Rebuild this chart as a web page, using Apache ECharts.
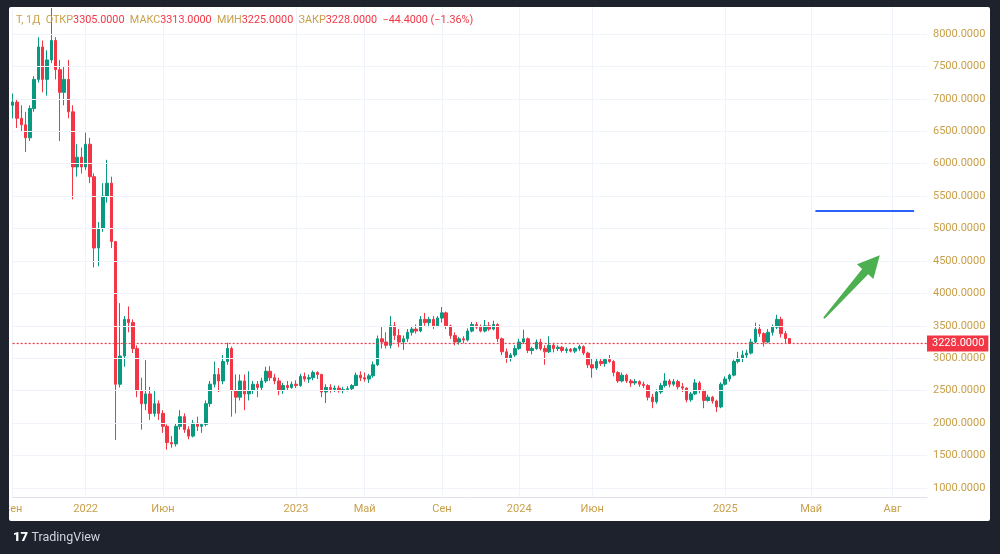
<!DOCTYPE html>
<html>
<head>
<meta charset="utf-8">
<script src="https://cdn.jsdelivr.net/npm/echarts@6/dist/echarts.min.js"></script>
<style>
  html, body { margin: 0; padding: 0; background: #1e222d; }
  #panel { position: absolute; left: 9px; top: 7px; width: 981px; height: 514px; background: #fff; border-radius: 2px; }
  #chart { position: absolute; left: 0; top: 0; width: 1000px; height: 554px; }
  #edge { position: absolute; left: 0; top: 0; width: 9px; height: 554px; background: #1e222d; }
</style>
</head>
<body>
<div id="panel"></div>
<div id="chart"></div>
<div id="edge"></div>
<script>
// weekly bars: [open, high, low, close]
const ohlc2021 = [
  [6900,7080,6700,6950],[6950,7000,6550,6700],[6700,6900,6500,6600],[6600,6800,6180,6400],
  [6400,6900,6350,6850],[6850,7350,6800,7300],[7300,7950,7250,7800],[7800,7900,7100,7300],
  [7300,7750,7050,7600],[7600,8400,7550,7900],[7900,7950,7300,7450],[7450,7600,6350,7100],
  [7100,7500,6900,7300],[7300,7600,6700,6800],[6800,6900,5450,5950],[5950,6300,5800,6100],
  [6100,6250,5850,5950]
];
const ohlc2022 = [
  [5950,6480,5900,6300],[6300,6400,5700,5800],[5800,5850,4400,4700],[4700,5100,4420,5000],
  [5000,5700,4950,5500],[5500,6060,5400,5700],[5700,5800,4700,4800],[4800,4800,1740,2600],
  [2600,3850,2550,3035],[3035,3650,2870,3600],[3600,3800,3400,3550],[3550,3600,3080,3150],
  [3150,3200,2400,2500],[2500,2700,1900,2300],[2300,2970,2200,2450],[2450,2560,2050,2150],
  [2150,2500,2100,2300],[2300,2350,2050,2150],[2150,2200,1850,1950],[1950,1980,1590,1700],
  [1700,1800,1620,1680],[1680,2000,1640,1950],[1950,2200,1900,2100],[2100,2150,1850,1900],
  [1900,1950,1750,1800],[1800,2050,1780,2000],[2000,2100,1880,1950],[1950,2000,1850,1980],
  [1980,2350,1950,2300],[2300,2650,2250,2600],[2600,2950,2550,2750],[2750,2850,2480,2650],
  [2650,3050,2600,2950],[2950,3240,2900,3150],[3150,3180,2100,2500],[2500,2750,2150,2400],
  [2400,2750,2350,2650],[2650,2750,2200,2450],[2450,2800,2350,2500],[2500,2650,2450,2600],
  [2600,2650,2400,2550],[2550,2700,2500,2650],[2650,2870,2620,2800],[2800,2880,2650,2700],
  [2700,2760,2600,2650],[2650,2700,2430,2500],[2500,2620,2450,2580],[2580,2650,2500,2550],
  [2550,2640,2530,2600]
];
const ohlc2023 = [
  [2600,2660,2540,2580],[2580,2760,2560,2720],[2720,2780,2640,2680],[2680,2750,2620,2700],
  [2700,2810,2660,2780],[2780,2800,2680,2750],[2750,2760,2400,2480],[2480,2600,2310,2550],
  [2550,2600,2470,2520],[2520,2580,2480,2540],[2540,2580,2470,2500],[2500,2560,2460,2520],
  [2520,2570,2490,2530],[2530,2600,2500,2580],[2580,2780,2570,2740],[2740,2800,2650,2700],
  [2700,2780,2640,2680],[2680,2760,2620,2730],[2730,2950,2700,2900],[2900,3350,2880,3300],
  [3300,3480,3150,3250],[3250,3400,3150,3200],[3200,3650,3150,3500],[3500,3560,3280,3350],
  [3350,3450,3170,3250],[3250,3350,3130,3300],[3300,3450,3250,3400],[3400,3500,3350,3450],
  [3450,3520,3380,3420],[3420,3650,3400,3600],[3600,3700,3500,3550],[3550,3640,3480,3600],
  [3600,3650,3450,3500],[3500,3650,3480,3620],[3620,3790,3550,3700],[3700,3720,3450,3500],
  [3500,3520,3300,3350],[3350,3400,3200,3250],[3250,3330,3210,3300],[3300,3340,3230,3280],
  [3280,3460,3260,3420],[3420,3560,3400,3520],[3520,3560,3450,3480],[3480,3520,3400,3420],
  [3420,3590,3400,3500],[3500,3560,3420,3450],[3450,3580,3430,3520],[3520,3540,3250,3300],
  [3300,3320,3050,3100],[3100,3150,2930,3000],[3000,3080,2950,3050],[3050,3200,3020,3150]
];
const ohlc2024 = [
  [3150,3300,3130,3250],[3250,3440,3220,3300],[3300,3320,3080,3120],[3120,3180,3060,3150],
  [3150,3290,3130,3250],[3250,3300,3120,3150],[3150,3200,2900,3100],[3100,3340,3080,3200],
  [3200,3240,3090,3150],[3150,3200,3110,3170],[3170,3190,3090,3120],[3120,3170,3080,3140],
  [3140,3160,3090,3110],[3110,3170,3080,3150],[3150,3210,3110,3180],[3180,3200,3050,3080],
  [3080,3100,2850,2900],[2900,3000,2700,2850],[2850,3000,2820,2950],[2950,3000,2880,2920],
  [2920,3000,2870,2980],[2980,3050,2930,2950],[2950,2970,2720,2780],[2780,2800,2620,2650],
  [2650,2780,2630,2740],[2740,2760,2620,2650],[2650,2680,2560,2620],[2620,2680,2590,2640],
  [2640,2660,2560,2600],[2600,2640,2540,2580],[2580,2600,2350,2400],[2400,2450,2230,2330],
  [2330,2520,2300,2480],[2480,2620,2450,2580],[2580,2770,2550,2650],[2650,2680,2550,2600],
  [2600,2680,2570,2640],[2640,2670,2520,2560],[2560,2620,2480,2540],[2540,2550,2320,2360],
  [2360,2480,2330,2450],[2450,2680,2430,2620],[2620,2650,2460,2500],[2500,2520,2230,2350],
  [2350,2440,2330,2400],[2400,2420,2300,2340],[2340,2360,2170,2250],[2250,2630,2230,2600]
];
const ohlc2025 = [
  [2600,2720,2580,2680],[2680,2760,2640,2740],[2740,2980,2720,2950],[2950,3100,2920,3000],
  [3000,3120,2940,3050],[3050,3130,3000,3080],[3080,3300,3060,3250],[3250,3550,3230,3450],
  [3450,3520,3330,3380],[3380,3400,3180,3250],[3250,3450,3230,3400],[3400,3520,3350,3480],
  [3480,3670,3450,3600],[3600,3640,3320,3380],[3380,3420,3220,3305],[3305,3313,3225,3228]
];

// header of the last daily bar
const lastBar = { open: 3305, high: 3313, low: 3225, close: 3228, change: -44.4, changePct: -1.36 };

// time axis: [bar index, label]
const timeTicks = [[0,'Сен'],[17,'2022'],[35,'Июн'],[66,'2023'],[82,'Май'],[100,'Сен'],
                   [118,'2024'],[135,'Июн'],[166,'2025'],[186,'Май'],[205,'Авг']];
const priceTicks = [1000,1500,2000,2500,3000,3500,4000,4500,5000,5500,6000,6500,7000,7500,8000];
const futureSlots = 32;

// drawings on the chart
const targetLine = { from: 187, to: 210, price: 5270 };
const arrowDrawing = [[189, 3620, 202, 4590]];

const gold = '#c9a04a';
const upColor = '#089981';
const downColor = '#f23645';

const candles = [].concat(ohlc2021, ohlc2022, ohlc2023, ohlc2024, ohlc2025);
const categories = [];
for (let i = 0; i < candles.length + futureSlots; i++) categories.push(String(i));
const tickMap = new Map(timeTicks);
const fmt = v => v.toFixed(4).replace('-', '−');

const headerText =
  '{l|T, 1Д}  {l|ОТКР}{v|' + fmt(lastBar.open) + '}  {l|МАКС}{v|' + fmt(lastBar.high) +
  '}  {l|МИН}{v|' + fmt(lastBar.low) + '}  {l|ЗАКР}{v|' + fmt(lastBar.close) +
  '}  {v|' + fmt(lastBar.change) + ' (' + lastBar.changePct.toFixed(2).replace('-', '−') + '%)}';

const chart = echarts.init(document.getElementById('chart'), null, { renderer: 'canvas' });

const option = {
  animation: false,
  backgroundColor: 'transparent',
  textStyle: { fontFamily: 'Roboto, sans-serif' },
  grid: { left: 12, right: 73, top: 7, bottom: 57 },
  xAxis: {
    type: 'category',
    data: categories,
    boundaryGap: false,
    axisLine: { lineStyle: { color: '#e0e3eb' } },
    axisTick: { show: false },
    axisLabel: {
      interval: i => tickMap.has(i),
      formatter: (v, i) => tickMap.get(i) || '',
      color: gold, fontSize: 11, margin: 7
    },
    splitLine: { show: true, interval: i => tickMap.has(i), lineStyle: { color: '#f0f3fa' } }
  },
  yAxis: {
    type: 'value',
    position: 'right',
    min: 861, max: 8416,
    axisLine: { show: false },
    axisTick: { show: false },
    splitLine: { show: false },
    axisLabel: { customValues: priceTicks, formatter: v => v.toFixed(4), color: gold, fontSize: 11, margin: 6 }
  },
  series: [
    {
      type: 'line', data: [], z: 1, silent: true,
      markLine: {
        silent: true, symbol: ['none', 'none'], label: { show: false },
        lineStyle: { color: '#f0f3fa', type: 'solid', width: 1 },
        data: priceTicks.map(v => ({ yAxis: v }))
      }
    },
    {
      type: 'candlestick',
      data: candles.map(c => [c[0], c[3], c[2], c[1]]),
      barWidth: 3,
      itemStyle: { color: upColor, color0: downColor, borderColor: upColor, borderColor0: downColor, borderWidth: 1 }
    },
    {
      // last price line with its scale label
      type: 'line', data: [], z: 4, silent: true, color: downColor,
      markLine: {
        silent: true, symbol: ['none', 'none'],
        lineStyle: { color: downColor, type: [2, 2], width: 1.2, opacity: 1 },
        label: {
          show: true, position: 'end', distance: 0,
          formatter: lastBar.close.toFixed(4),
          color: '#fff', backgroundColor: downColor, padding: [2, 4, 2, 5],
          fontSize: 11, lineHeight: 12
        },
        data: [{ yAxis: lastBar.close }]
      }
    },
    {
      // horizontal drawing
      type: 'line', data: [], z: 4, silent: true, color: '#2962ff',
      markLine: {
        silent: true, symbol: ['none', 'none'], label: { show: false },
        lineStyle: { color: '#2962ff', type: 'solid', width: 2, opacity: 1 },
        data: [[{ coord: [targetLine.from, targetLine.price] }, { coord: [targetLine.to, targetLine.price] }]]
      }
    },
    {
      type: 'custom',
      data: arrowDrawing,
      encode: { x: [0, 2], y: [1, 3] },
      silent: true,
      z: 5,
      renderItem: (params, api) => {
        const a = api.coord([api.value(0), api.value(1)]);
        const b = api.coord([api.value(2), api.value(3)]);
        const dx = b[0] - a[0], dy = b[1] - a[1], len = Math.hypot(dx, dy);
        const ux = dx / len, uy = dy / len, nx = -uy, ny = ux;
        const head = 22, hw = 11, sw = 4, tw = 1;
        const bx = b[0] - ux * head, by = b[1] - uy * head;
        return {
          type: 'polygon',
          shape: { points: [
            [a[0] + nx * tw, a[1] + ny * tw], [bx + nx * sw, by + ny * sw], [bx + nx * hw, by + ny * hw],
            b, [bx - nx * hw, by - ny * hw], [bx - nx * sw, by - ny * sw], [a[0] - nx * tw, a[1] - ny * tw]
          ] },
          style: { fill: '#4caf50' }
        };
      }
    }
  ],
  graphic: [
    {
      type: 'text', left: 16, top: 15, z: 10,
      style: {
        text: headerText,
        fontFamily: 'Roboto, sans-serif', fontSize: 10.8,
        rich: {
          l: { fill: gold, fontSize: 10.8, fontFamily: 'Roboto, sans-serif' },
          v: { fill: downColor, fontSize: 10.8, fontFamily: 'Roboto, sans-serif' }
        }
      }
    },
    {
      type: 'text', left: 13, top: 531, z: 10,
      style: {
        text: '{i|17} {t|TradingView}',
        rich: {
          i: { fill: '#ffffff', fontSize: 13, fontWeight: 900, fontFamily: 'Roboto, sans-serif' },
          t: { fill: '#d1d4dc', fontSize: 12.5, fontFamily: 'Roboto, sans-serif' }
        }
      }
    }
  ]
};

chart.setOption(option);
</script>
</body>
</html>
